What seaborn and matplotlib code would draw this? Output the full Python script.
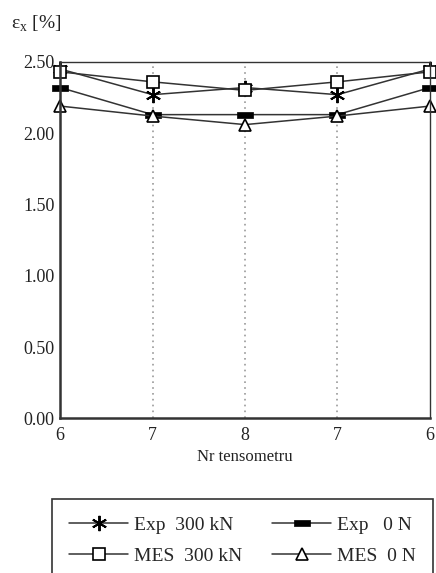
import pandas as pd
import matplotlib
matplotlib.use("Agg")
import matplotlib.pyplot as plt
import seaborn as sns

# strain at each gauge
gauges = ["6", "7", "8", "7", "6"]
exp_300 = [2.45, 2.27, 2.32, 2.27, 2.45]
exp_0 = [2.32, 2.13, 2.13, 2.13, 2.32]
mes_300 = [2.43, 2.36, 2.30, 2.36, 2.43]
mes_0 = [2.19, 2.12, 2.06, 2.12, 2.19]

sns.set_style("white")
plt.rcParams['font.family'] = ['Liberation Serif', 'DejaVu Serif']
plt.rcParams['mathtext.fontset'] = 'custom'
plt.rcParams['mathtext.rm'] = 'Liberation Serif'

fig = plt.figure(figsize=(4.36, 5.73), dpi=100)
ax = fig.add_axes([0.138, 0.270, 0.848, 0.622])

pos = list(range(len(gauges)))
bar = [(-1, -0.4), (1, -0.4), (1, 0.4), (-1, 0.4), (-1, -0.4)]
series = [
    ("Exp  300 kN", exp_300, dict(marker=(6, 2, 0), markersize=11, markeredgewidth=1.4,
                                   markerfacecolor="black", markeredgecolor="black")),
    ("MES  300 kN", mes_300, dict(marker="s", markersize=8, markerfacecolor="white",
                                   markeredgecolor="black", markeredgewidth=1.2)),
    ("Exp   0 N", exp_0, dict(marker=bar, markersize=11, markerfacecolor="black",
                               markeredgecolor="black", markeredgewidth=0.5)),
    ("MES  0 N", mes_0, dict(marker="^", markersize=8, markerfacecolor="white",
                              markeredgecolor="black", markeredgewidth=1.2)),
]

for lab, vals, mk in series:
    sns.lineplot(x=pos, y=vals, ax=ax, color="#333333", linewidth=1.1, label=lab,
                 clip_on=False, **mk)

for p in pos[1:-1]:
    ax.axvline(p, color="#999999", linestyle=(0, (1, 2.5)), linewidth=1.2, zorder=0)

ax.set_xlim(0, 4)
ax.set_ylim(0, 2.5)
ax.set_xticks(pos)
ax.set_xticklabels(gauges, fontsize=13)
ax.set_yticks([0, 0.5, 1.0, 1.5, 2.0, 2.5])
ax.set_yticklabels(["0.00", "0.50", "1.00", "1.50", "2.00", "2.50"], fontsize=13)
ax.tick_params(direction="inout", length=8, width=1.2, colors="#222222", pad=2)
ax.tick_params(axis="y", length=8, pad=0)
for s in ax.spines.values():
    s.set_color("#333333")
    s.set_linewidth(1.0)
ax.spines["left"].set_linewidth(1.8)
ax.spines["bottom"].set_linewidth(1.8)

ax.set_xlabel("Nr tensometru", fontsize=12, labelpad=4, color="#222222")
ax.set_ylabel("")
fig.text(0.025, 0.958, r"$\mathrm{ε}_{\mathrm{x}}$ [%]", fontsize=14, ha="left", va="center",
         color="#222222")

handles, labels = ax.get_legend_handles_labels()
ax.get_legend().remove()
leg = fig.legend(handles, labels, loc="upper left",
                 bbox_to_anchor=(0.119, -0.05, 0.874, 0.179),
                 mode="expand", ncol=2, frameon=True, fancybox=False, fontsize=14,
                 handlelength=3.0, handletextpad=0.3, borderpad=0.9, labelspacing=0.68,
                 columnspacing=1.0, borderaxespad=0, framealpha=1)
leg.get_frame().set_edgecolor("#333333")
leg.get_frame().set_linewidth(1.2)

plt.savefig("out.png", dpi=100)
